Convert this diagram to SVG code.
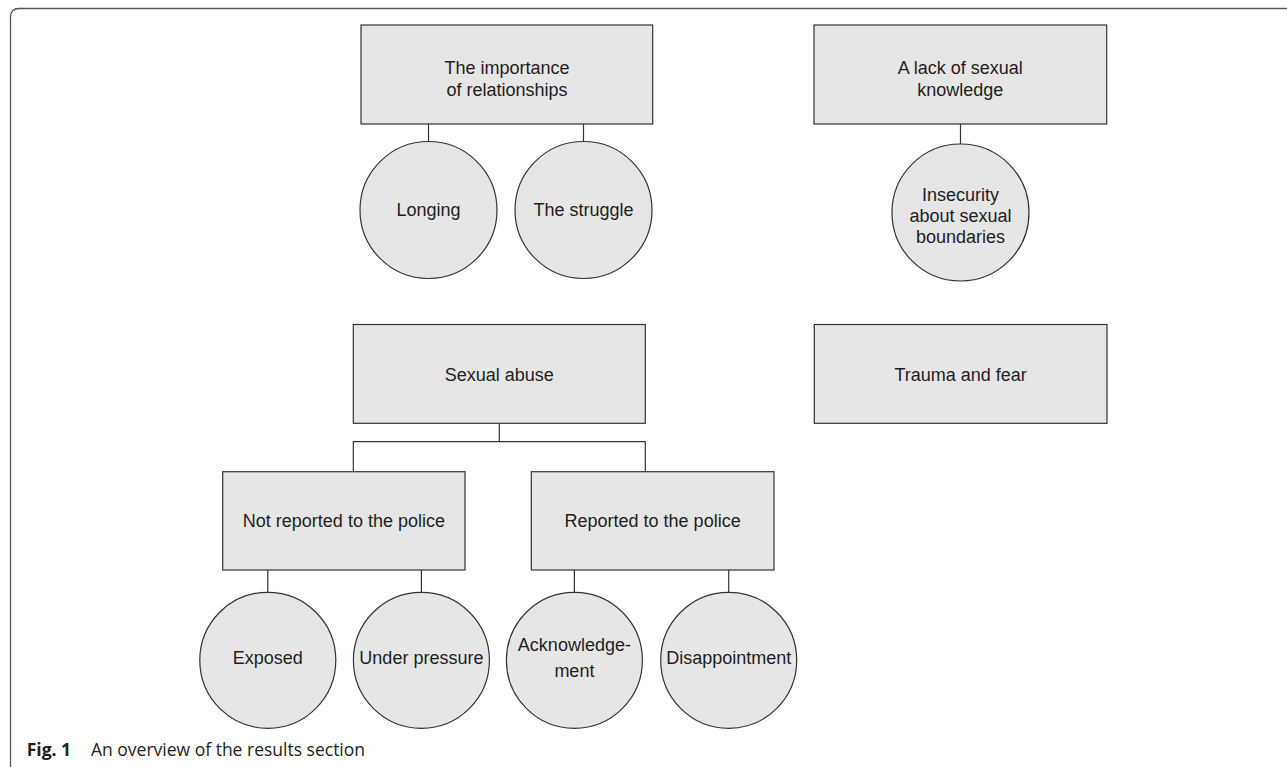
<svg xmlns="http://www.w3.org/2000/svg" width="1287" height="767" viewBox="0 0 1287 767">
<style>
.box{fill:#e6e6e6;stroke:#333;stroke-width:1.2}
.circ{fill:#e6e6e6;stroke:#333;stroke-width:1.2}
.t{font-family:"Liberation Sans",Arial,sans-serif;font-size:18px;fill:#1e1e1e;text-anchor:middle}
.conn line,.conn path{stroke:#333;stroke-width:1.2;fill:none}
.cap{font-family:"Open Sans","Noto Sans",sans-serif;font-size:17.5px;fill:#231f20}
</style>
<rect width="1287" height="767" fill="#fff"/>
<path d="M10.5,767 V17 Q10.5,8.5 19,8.5 H1287" fill="none" stroke="#555" stroke-width="1.3"/>
<g id="connectors" class="conn">
<line x1="428.5" y1="124" x2="428.5" y2="141.5"/>
<line x1="583.5" y1="124" x2="583.5" y2="141.5"/>
<line x1="960.5" y1="124" x2="960.5" y2="144"/>
<path d="M499.3,423.3 V441.7 M353.3,471.7 V441.7 H645.3 V471.7"/>
<line x1="267.8" y1="570" x2="267.8" y2="592.3"/>
<line x1="421.4" y1="570" x2="421.4" y2="592.3"/>
<line x1="574.4" y1="570" x2="574.4" y2="592.3"/>
<line x1="728.7" y1="570" x2="728.7" y2="592.3"/>
</g>
<g id="importance">
<rect class="box" x="361" y="25" width="291.7" height="99"/>
<text class="t" x="507" y="74">The importance</text>
<text class="t" x="507" y="96">of relationships</text>
</g>
<g id="lack">
<rect class="box" x="814" y="25" width="292.7" height="99"/>
<text class="t" x="960.3" y="74">A lack of sexual</text>
<text class="t" x="960.3" y="96">knowledge</text>
</g>
<g id="longing">
<circle class="circ" cx="428.5" cy="210" r="68.5"/>
<text class="t" x="428.5" y="216">Longing</text>
</g>
<g id="struggle">
<circle class="circ" cx="583.5" cy="210" r="68.5"/>
<text class="t" x="583.5" y="216">The struggle</text>
</g>
<g id="insecurity">
<circle class="circ" cx="960.5" cy="212.5" r="68.5"/>
<text class="t" x="960.5" y="200.7">Insecurity</text>
<text class="t" x="960.5" y="222">about sexual</text>
<text class="t" x="960.5" y="243.3">boundaries</text>
</g>
<g id="sexual-abuse">
<rect class="box" x="353.3" y="324.5" width="292" height="98.8"/>
<text class="t" x="499.3" y="380.5">Sexual abuse</text>
</g>
<g id="trauma">
<rect class="box" x="814.3" y="324.5" width="292.7" height="98.8"/>
<text class="t" x="960.6" y="380.5">Trauma and fear</text>
</g>
<g id="not-reported">
<rect class="box" x="222.7" y="471.7" width="242.3" height="98.3"/>
<text class="t" x="343.9" y="527">Not reported to the police</text>
</g>
<g id="reported">
<rect class="box" x="531.3" y="471.7" width="242.7" height="98.3"/>
<text class="t" x="652.6" y="527">Reported to the police</text>
</g>
<g id="exposed">
<circle class="circ" cx="267.8" cy="660.3" r="68"/>
<text class="t" x="267.8" y="664">Exposed</text>
</g>
<g id="pressure">
<circle class="circ" cx="421.4" cy="660.3" r="68"/>
<text class="t" x="421.4" y="664">Under pressure</text>
</g>
<g id="acknowledgement">
<circle class="circ" cx="574.4" cy="660.3" r="68"/>
<text class="t" x="574.4" y="651">Acknowledge-</text>
<text class="t" x="574.4" y="677">ment</text>
</g>
<g id="disappointment">
<circle class="circ" cx="728.7" cy="660.3" r="68"/>
<text class="t" x="728.7" y="664">Disappointment</text>
</g>
<text class="cap" y="756"><tspan x="26.7" font-weight="bold">Fig. 1</tspan><tspan x="91">An overview of the results section</tspan></text>
</svg>
